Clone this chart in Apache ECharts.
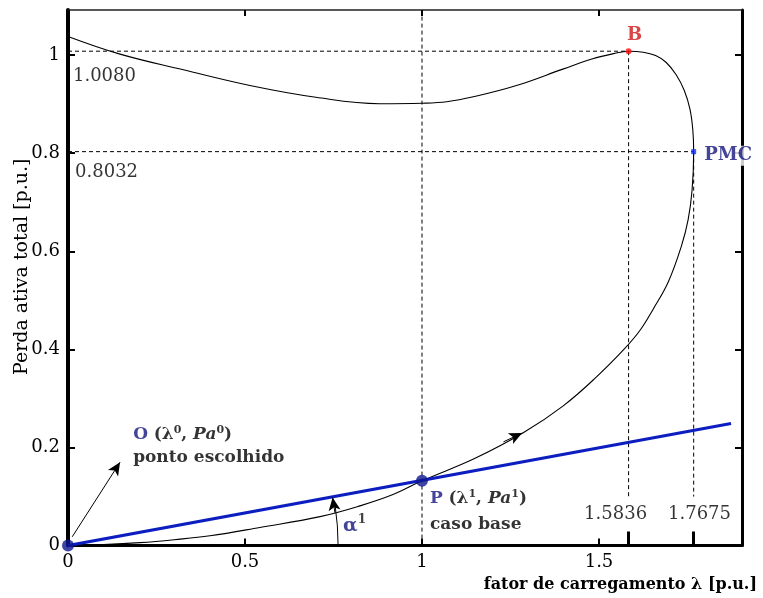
<!DOCTYPE html>
<html><head><meta charset="utf-8">
<script src="https://cdn.jsdelivr.net/npm/echarts@6/dist/echarts.min.js"></script>
<style>html,body{margin:0;padding:0;background:#fff}#c{width:763px;height:598px}</style>
</head><body><div id="c"></div>
<script>
// ---- data ----
const curveX = [0, 0.10, 0.203, 0.30, 0.401, 0.542, 0.712, 0.825, 0.918, 1.0, 1.150, 1.286, 1.399, 1.493, 1.573, 1.616, 1.653, 1.696, 1.733, 1.752, 1.763, 1.7675, 1.765, 1.757, 1.741, 1.718, 1.690, 1.660, 1.625, 1.5836, 1.541, 1.480, 1.400, 1.267, 1.145, 1.070, 1.0, 0.880, 0.700, 0.514, 0.326, 0.147, 0];
const curveY = [0, 0.002, 0.006, 0.012, 0.020, 0.037, 0.059, 0.081, 0.104, 0.132, 0.178, 0.230, 0.285, 0.344, 0.402, 0.439, 0.482, 0.538, 0.611, 0.665, 0.725, 0.8032, 0.848, 0.890, 0.928, 0.960, 0.985, 0.999, 1.006, 1.008, 1.003, 0.992, 0.972, 0.938, 0.915, 0.905, 0.902, 0.901, 0.914, 0.938, 0.970, 1.002, 1.038];
const tangentX = [0, 1.873];
const tangentY = [0, 0.249];
const pointO = [0, 0];
const pointP = [1, 0.132];
const pointB = [1.5836, 1.008];
const pointPMC = [1.7675, 0.8032];
const xTicks = [0, 0.5, 1, 1.5];
const yTicks = [0, 0.2, 0.4, 0.6, 0.8, 1];
const xRange = [0, 1.904];
const yRange = [0, 1.092];
const guideBottom = 0.1;

// ---- styles ----
const FONT = 'DejaVu Serif';
const NAVY = '#15157e';
const BLUE = '#0c1ec0';
const RED = '#d01818';

const curveData = curveX.map((x, i) => [x, curveY[i]]);
const tangentData = tangentX.map((x, i) => [x, tangentY[i]]);

function dashed(name, data) {
  return { name, type: 'line', data, showSymbol: false, silent: true, z: 2,
    lineStyle: { color: '#000', width: 1, type: [4, 3] } };
}

const richBase = {
  c: { fontSize: 17, fontWeight: 'bold', fontFamily: FONT, color: NAVY },
  b: { fontSize: 17, fontWeight: 'bold', fontFamily: FONT, color: '#000' },
  i: { fontSize: 17, fontWeight: 'bold', fontStyle: 'italic', fontFamily: FONT, color: '#000' },
  s: { fontSize: 11, fontWeight: 'bold', fontFamily: FONT, color: '#000', padding: [0, 0, 10, 0] },
  a: { fontSize: 19, fontWeight: 'bold', fontFamily: FONT, color: NAVY },
  s2: { fontSize: 12, fontWeight: 'bold', fontFamily: FONT, color: '#111', padding: [0, 0, 12, 0] },
  n: { fontSize: 18, fontFamily: FONT, color: '#000' }
};

function ann(value, formatter) {
  return { value, label: { formatter } };
}

const annotations = [
  ann([0.014, 0.957], '{n|' + pointB[1].toFixed(4) + '}'),
  ann([0.020, 0.761], '{n|' + pointPMC[1].toFixed(4) + '}'),
  ann([1.458, 0.064], '{n|' + pointB[0].toFixed(4) + '}'),
  ann([1.695, 0.064], '{n|' + pointPMC[0].toFixed(4) + '}'),
  ann([0.184, 0.2254], '{c|O} {b|(λ}{s|0}{b|, }{i|Pa}{s|0}{b|)}'),
  ann([0.184, 0.1785], '{b|ponto escolhido}'),
  ann([1.0226, 0.095], '{c|P} {b|(λ}{s|1}{b|, }{i|Pa}{s|1}{b|)}'),
  ann([1.0226, 0.042], '{b|caso base}'),
  ann([0.777, 0.040], '{a|α}{s2|1}')
];

const chart = echarts.init(document.getElementById('c'), null, { renderer: 'canvas' });

const axisLabelStyle = { fontFamily: FONT, fontSize: 18, color: '#000' };

const option = {
  animation: false,
  backgroundColor: '#fff',
  grid: { left: 68, top: 10, width: 674, height: 535.6, containLabel: false, outerBoundsMode: 'none' },
  xAxis: [
    { type: 'value', min: xRange[0], max: xRange[1], interval: 0.5, position: 'bottom',
      axisLine: { onZero: false, lineStyle: { color: '#000', width: 3 } },
      axisTick: { inside: true, length: 7, customValues: xTicks, lineStyle: { color: '#000', width: 2 } },
      axisLabel: Object.assign({ margin: 8, customValues: xTicks }, axisLabelStyle),
      splitLine: { show: false },
      name: 'fator de carregamento λ [p.u.]', nameLocation: 'end', nameGap: 15,
      nameTextStyle: { fontFamily: FONT, fontSize: 16, fontWeight: 'bold', color: '#000', align: 'right', verticalAlign: 'top', padding: [31, 0, 0, 0] } },
    { type: 'value', min: xRange[0], max: xRange[1], interval: 0.5, position: 'top',
      axisLine: { onZero: false, lineStyle: { color: '#222', width: 1.5 } },
      axisTick: { inside: true, length: 6, customValues: xTicks, lineStyle: { color: '#000', width: 2 } },
      axisLabel: { show: false }, splitLine: { show: false } },
    { type: 'value', min: xRange[0], max: xRange[1], position: 'bottom',
      axisLine: { show: false },
      axisTick: { inside: true, length: 14, customValues: [pointB[0], pointPMC[0]], lineStyle: { color: '#000', width: 3 } },
      axisLabel: { show: false }, splitLine: { show: false } }
  ],
  yAxis: [
    { type: 'value', min: yRange[0], max: yRange[1], interval: 0.2, position: 'left',
      axisLine: { onZero: false, lineStyle: { color: '#000', width: 4 } },
      axisTick: { inside: true, length: 7, customValues: yTicks, lineStyle: { color: '#000', width: 2 } },
      axisLabel: Object.assign({ margin: 8, customValues: yTicks }, axisLabelStyle),
      splitLine: { show: false },
      name: 'Perda ativa total [p.u.]', nameLocation: 'middle', nameGap: 36, nameMoveOverlap: false,
      nameTextStyle: { fontFamily: FONT, fontSize: 19, color: '#000', padding: [0, 0, 0, 22] } },
    { type: 'value', min: yRange[0], max: yRange[1], interval: 0.2, position: 'right',
      axisLine: { onZero: false, lineStyle: { color: '#000', width: 3 } },
      axisTick: { inside: true, length: 7, customValues: yTicks, lineStyle: { color: '#000', width: 2 } },
      axisLabel: { show: false }, splitLine: { show: false } }
  ],
  series: [
    dashed('guide-λ1', [[pointP[0], yRange[0]], [pointP[0], yRange[1]]]),
    dashed('guide-B-h', [[0, pointB[1]], pointB]),
    dashed('guide-B-v', [pointB, [pointB[0], guideBottom]]),
    dashed('guide-PMC-h', [[0, pointPMC[1]], pointPMC]),
    dashed('guide-PMC-v', [pointPMC, [pointPMC[0], guideBottom]]),
    { name: 'Perda ativa', type: 'line', data: curveData, showSymbol: false, smooth: 0.4, z: 3,
      lineStyle: { color: '#000', width: 1.1 },
      markLine: { silent: true, symbol: ['none', 'arrow'], symbolSize: [9, 13], label: { show: false },
        lineStyle: { color: '#000', width: 1, type: 'solid' },
        data: [
          [{ coord: [0.012, 0.018] }, { coord: [0.147, 0.170] }],
          [{ coord: [1.23, 0.2115] }, { coord: [1.283, 0.2295] }],
          [{ coord: [0.754, 0.067] }, { coord: [0.7475, 0.098] }]
        ] } },
    { name: 'tangente', type: 'line', data: tangentData, showSymbol: false, z: 4,
      lineStyle: { color: BLUE, width: 3 } },
    { name: 'O/P', type: 'scatter', data: [pointO, pointP], symbolSize: 12, clip: false, z: 6,
      itemStyle: { color: '#0e168e' } },
    { name: 'B', type: 'scatter', data: [pointB], symbolSize: 6, z: 6, clip: false,
      itemStyle: { color: '#ff1010' },
      label: { show: true, position: 'top', distance: 4, offset: [6, 0], formatter: 'B',
        fontFamily: FONT, fontSize: 18, fontWeight: 'bold', color: RED } },
    { name: 'PMC', type: 'scatter', data: [pointPMC], symbol: 'rect', symbolSize: 5, z: 6, clip: false,
      itemStyle: { color: '#1030ff' },
      label: { show: true, position: 'right', distance: 6, offset: [0, 4], formatter: 'PMC',
        fontFamily: FONT, fontSize: 18, fontWeight: 'bold', color: NAVY, backgroundColor: '#fff', padding: [1, 2, 1, 2] } },
    { name: 'annotations', type: 'scatter', data: annotations, symbolSize: 0, silent: true, z: 7, clip: false,
      label: { show: true, position: 'right', distance: 0, fontFamily: FONT, fontSize: 18, color: '#000', rich: richBase } }
  ]
};
chart.setOption(option);

// angle arc α¹ between the x axis and the tangent line
const o = chart.convertToPixel({ gridIndex: 0 }, pointO);
const a = chart.convertToPixel({ gridIndex: 0 }, [0.763, 0]);
const t = chart.convertToPixel({ gridIndex: 0 }, tangentData[1]);
const theta = Math.atan2(o[1] - t[1], t[0] - o[0]);
chart.setOption({
  graphic: [{ type: 'arc', silent: true, z: 10,
    shape: { cx: o[0], cy: o[1], r: a[0] - o[0], startAngle: -theta * 0.8, endAngle: 0, clockwise: true },
    style: { stroke: '#000', fill: null, lineWidth: 1 } }]
});
</script>
</body></html>
